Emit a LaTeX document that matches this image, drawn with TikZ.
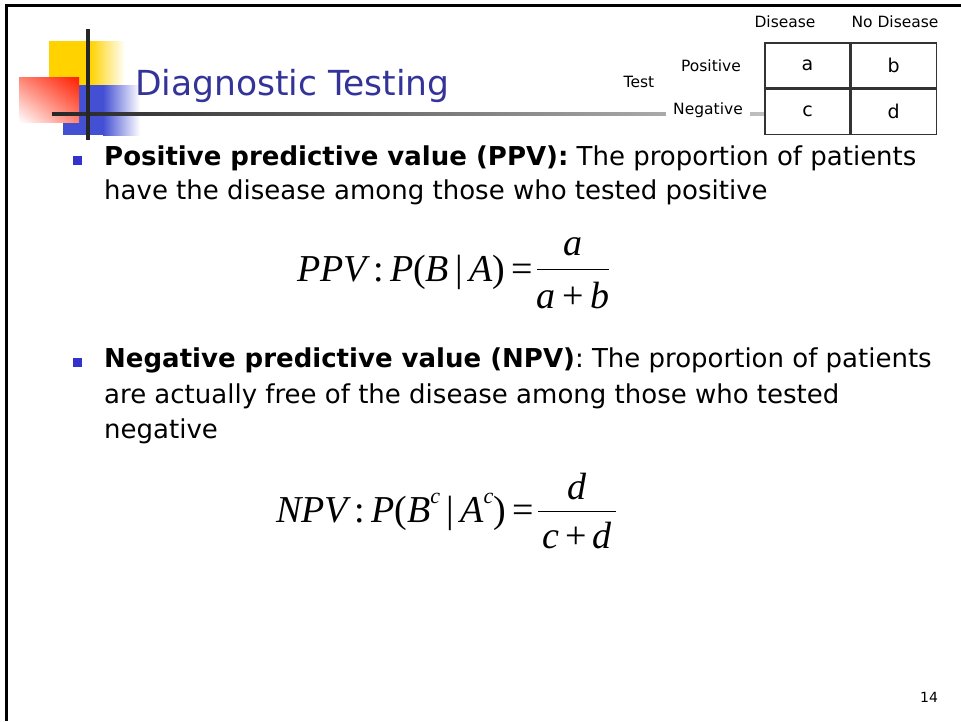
\documentclass[tikz,border=0pt]{standalone}
\usepackage{fontspec}
\setmainfont{DejaVu Sans}
\newfontfamily\timesfont{Liberation Serif}
\usetikzlibrary{positioning, calc, shadings}
\definecolor{titleblue}{HTML}{333399}
\definecolor{bulletblue}{HTML}{3333CC}
\definecolor{decoyellow}{HTML}{FFD200}
\definecolor{decoblue}{HTML}{4450D4}
\definecolor{decored}{HTML}{FF1E00}
\newcommand{\supc}{\raisebox{0.5em}{\fontsize{22}{22}\selectfont c}}

\begin{document}
\begin{tikzpicture}[x=1pt, y=-1pt, font=\fontsize{26}{30}\selectfont]
        \tikzset{cell/.style={draw=black!80, line width=1.2pt, minimum width=85pt, minimum height=45pt, inner sep=0pt, font=\fontsize{19}{21}\selectfont},
                 small/.style={font=\fontsize{15.5}{17}\selectfont, inner sep=2pt},
                 bodyline/.style={anchor=west, inner sep=0pt},
                 formula/.style={font=\timesfont\fontsize{38}{40}\selectfont, inner sep=0pt},
                 bulletsq/.style={fill=bulletblue, minimum size=9pt, inner sep=0pt}}
        \useasboundingbox (0,0) rectangle (961,721);
        % slide frame
        \draw [line width=3pt] (6,721) -- (6,5) -- (961,5);

        % title decoration
        \fill [decoyellow] (49,41) rectangle (90,85); \shade [left color=decoyellow, right color=white] (90,41) rectangle (125,85);
        \fill [decoblue] (63,85) rectangle (103,135); \shade [left color=decoblue, right color=white] (103,85) rectangle (140,135);
        \shade [upper right=decored, lower left=white, upper left=decored!55!white, lower right=decored!55!white] (19,77) rectangle (79,122);
        \shade [left color=black!85, right color=black!25] (52,112.5) rectangle (765,115.5);
        \draw [line width=3.5pt, black!85] (88,29) -- (88,140);
        \node (title) [anchor=west, inner sep=0pt, text=titleblue, font=\fontsize{34.5}{38}\selectfont] at (135,86) {Diagnostic Testing};

        % 2x2 table
        \node (ca) [cell] at (807.5,65.5) {a}; \node (cb) [cell, right=0pt of ca] {b};
        \node (cc) [cell, below=0pt of ca] {c}; \node (cd) [cell, right=0pt of cc] {d};
        \node (dis) [small] at (785,22) {Disease}; \node (nodis) [small] at (895,22) {No Disease};
        \node (pos) [small] at (711,66) {Positive}; \node (test) [small] at (639,82) {Test};
        \node (neg) [small, fill=white, inner xsep=7pt] at (708,110) {Negative};

        % bullet 1
        \node (b1) [bulletsq] at (77,160) {};
        \node (l1) [bodyline] at (104,158) {\textbf{Positive predictive value (PPV):} The proportion of patients};
        \node (l2) [bodyline] at (104,192) {have the disease among those who tested positive};
        \node (f1) [formula, anchor=west] at (297,272) {\itshape PPV\,\upshape:\,\itshape P\upshape(\itshape B\,\upshape|\,\itshape A\upshape)\,=};
        \node (n1) [formula] at (573,247) {\itshape a};
        \node (d1) [formula] at (573,296) {\itshape a\,\upshape+\,\itshape b};
        \coordinate (m1) at ($(n1.south)!0.5!(d1.north)$);
        \draw [line width=1.3pt] ($(m1)+(-36,0)$) -- ($(m1)+(36,0)$);

        % bullet 2
        \node (b2) [bulletsq] at (77,362) {};
        \node (l3) [bodyline] at (104,360) {\textbf{Negative predictive value (NPV)}: The proportion of patients};
        \node (l4) [bodyline] at (104,396) {are actually free of the disease among those who tested};
        \node (l5) [bodyline] at (104,431) {negative};
        \node (f2) [formula, anchor=west] at (276,512) {\itshape NPV\,\upshape:\,\itshape P\upshape(\itshape B\supc\,\upshape|\,\itshape A\supc\upshape)\,=};
        \node (n2) [formula] at (577,487) {\itshape d};
        \node (d2) [formula] at (577,536) {\itshape c\,\upshape+\,\itshape d};
        \coordinate (m2) at ($(n2.south)!0.5!(d2.north)$);
        \draw [line width=1.3pt] ($(m2)+(-39,0)$) -- ($(m2)+(39,0)$);

        \node (page) [font=\fontsize{14}{16}\selectfont] at (929,697) {14};
    \end{tikzpicture}
\end{document}
